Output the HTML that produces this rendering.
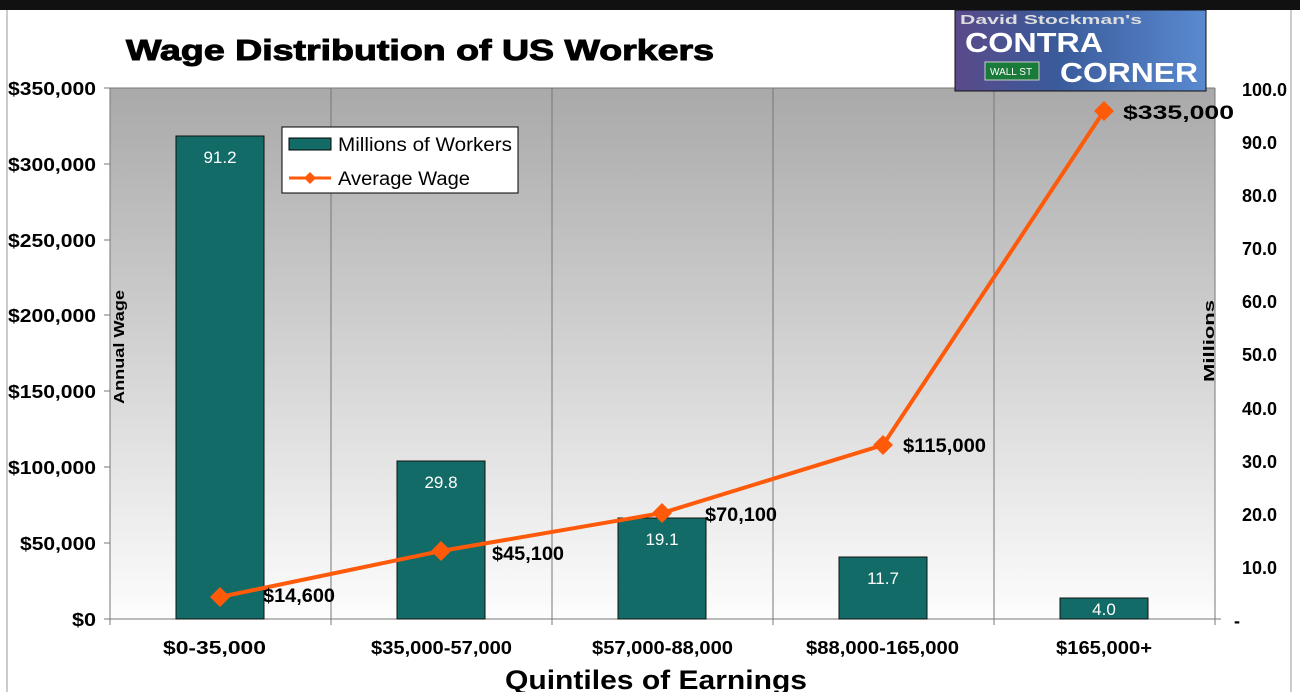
<!DOCTYPE html>
<html><head><style>
body{margin:0;width:1300px;height:692px;overflow:hidden;background:#fff;font-family:"Liberation Sans",Arial,sans-serif}
</style></head><body>
<svg width="1300" height="692" xmlns="http://www.w3.org/2000/svg" font-family="Liberation Sans, Arial, sans-serif">
<defs>
<linearGradient id="g" x1="0" y1="0" x2="0" y2="1">
<stop offset="0" stop-color="#a9a9a9"/><stop offset="1" stop-color="#fdfdfd"/>
</linearGradient>
<linearGradient id="logo" x1="0" y1="0" x2="1" y2="0">
<stop offset="0" stop-color="#5a4a8a"/><stop offset="0.4" stop-color="#3a5a9a"/><stop offset="1" stop-color="#5a8ad0"/>
</linearGradient>
</defs>
<rect x="0" y="0" width="1300" height="10" fill="#111"/>
<line x1="7" y1="10" x2="7" y2="692" stroke="#999"/>
<line x1="1291" y1="10" x2="1291" y2="692" stroke="#999"/>
<rect x="110" y="88" width="1105" height="531" fill="url(#g)"/>
<g stroke="#777" stroke-width="1">
<line x1="110" y1="88" x2="1215" y2="88"/>
<line x1="331" y1="88" x2="331" y2="625"/><line x1="552" y1="88" x2="552" y2="625"/>
<line x1="773" y1="88" x2="773" y2="625"/><line x1="994" y1="88" x2="994" y2="625"/>
<line x1="110" y1="88" x2="110" y2="625"/><line x1="1215" y1="88" x2="1215" y2="625"/>
<line x1="104" y1="619" x2="1221" y2="619"/>
</g>
<g stroke="#777">
<line x1="104" y1="88" x2="110" y2="88"/><line x1="104" y1="164" x2="110" y2="164"/><line x1="104" y1="240" x2="110" y2="240"/><line x1="104" y1="315" x2="110" y2="315"/><line x1="104" y1="391" x2="110" y2="391"/><line x1="104" y1="467" x2="110" y2="467"/><line x1="104" y1="543" x2="110" y2="543"/>
</g>
<g font-size="18" font-weight="bold" fill="#000" lengthAdjust="spacingAndGlyphs">
<text x="8" y="95" textLength="88" lengthAdjust="spacingAndGlyphs">$350,000</text>
<text x="8" y="171" textLength="88" lengthAdjust="spacingAndGlyphs">$300,000</text>
<text x="8" y="247" textLength="88" lengthAdjust="spacingAndGlyphs">$250,000</text>
<text x="8" y="322" textLength="88" lengthAdjust="spacingAndGlyphs">$200,000</text>
<text x="8" y="398" textLength="88" lengthAdjust="spacingAndGlyphs">$150,000</text>
<text x="8" y="474" textLength="88" lengthAdjust="spacingAndGlyphs">$100,000</text>
<text x="20" y="550" textLength="76" lengthAdjust="spacingAndGlyphs">$50,000</text>
<text x="72" y="626" textLength="24" lengthAdjust="spacingAndGlyphs">$0</text>
</g>
<g font-size="18" font-weight="bold" text-anchor="end">
<text x="1287" y="96">100.0</text><text x="1277" y="149">90.0</text><text x="1277" y="202">80.0</text><text x="1277" y="255">70.0</text><text x="1277" y="308">60.0</text><text x="1277" y="361">50.0</text><text x="1277" y="415">40.0</text><text x="1277" y="468">30.0</text><text x="1277" y="521">20.0</text><text x="1277" y="574">10.0</text><text x="1240" y="627">-</text>
</g>
<text transform="translate(124,347) rotate(-90)" font-size="15" font-weight="bold" text-anchor="middle" textLength="114" lengthAdjust="spacingAndGlyphs">Annual Wage</text>
<text transform="translate(1214,341) rotate(-90)" font-size="15" font-weight="bold" text-anchor="middle" textLength="82" lengthAdjust="spacingAndGlyphs">Millions</text>
<g fill="#126b66" stroke="#111" stroke-width="1">
<rect x="176" y="136" width="88" height="483"/>
<rect x="397" y="461" width="88" height="158"/>
<rect x="618" y="518" width="88" height="101"/>
<rect x="839" y="557" width="88" height="62"/>
<rect x="1060" y="598" width="88" height="21"/>
</g>
<g fill="#fff" font-size="17" text-anchor="middle">
<text x="220" y="163">91.2</text><text x="441" y="488">29.8</text><text x="662" y="545">19.1</text><text x="883" y="584">11.7</text><text x="1104" y="615">4.0</text>
</g>
<polyline points="220,597 441,551 662,513 883,445 1104,111" fill="none" stroke="#ff5a0a" stroke-width="4"/>
<g fill="#ff5a0a">
<path d="M220 587l10 10-10 10-10-10z"/><path d="M441 541l10 10-10 10-10-10z"/><path d="M662 503l10 10-10 10-10-10z"/><path d="M883 435l10 10-10 10-10-10z"/><path d="M1104 101l10 10-10 10-10-10z"/>
</g>
<g font-size="19" font-weight="bold">
<text x="263" y="602" textLength="72" lengthAdjust="spacingAndGlyphs">$14,600</text>
<text x="492" y="560" textLength="72" lengthAdjust="spacingAndGlyphs">$45,100</text>
<text x="705" y="521" textLength="72" lengthAdjust="spacingAndGlyphs">$70,100</text>
<text x="903" y="452" textLength="83" lengthAdjust="spacingAndGlyphs">$115,000</text>
<text x="1123" y="119" textLength="111" lengthAdjust="spacingAndGlyphs">$335,000</text>
</g>
<g font-size="18" font-weight="bold">
<text x="163" y="654" textLength="103" lengthAdjust="spacingAndGlyphs">$0-35,000</text>
<text x="371" y="654" textLength="141" lengthAdjust="spacingAndGlyphs">$35,000-57,000</text>
<text x="592" y="654" textLength="141" lengthAdjust="spacingAndGlyphs">$57,000-88,000</text>
<text x="806" y="654" textLength="153" lengthAdjust="spacingAndGlyphs">$88,000-165,000</text>
<text x="1056" y="654" textLength="96" lengthAdjust="spacingAndGlyphs">$165,000+</text>
</g>
<text x="505" y="689" font-size="27" font-weight="bold" textLength="302" lengthAdjust="spacingAndGlyphs">Quintiles of Earnings</text>
<text x="126" y="60" font-size="29" font-weight="bold" textLength="588" lengthAdjust="spacingAndGlyphs" stroke="#000" stroke-width="1">Wage Distribution of US Workers</text>
<rect x="282" y="127" width="236" height="66" fill="#fff" stroke="#000"/>
<rect x="289" y="138" width="42" height="12" fill="#126b66" stroke="#000"/>
<text x="338" y="151" font-size="19" textLength="174" lengthAdjust="spacingAndGlyphs">Millions of Workers</text>
<line x1="289" y1="178" x2="331" y2="178" stroke="#ff5a0a" stroke-width="3"/>
<path d="M310 172l6 6-6 6-6-6z" fill="#ff5a0a"/>
<text x="338" y="185" font-size="19" textLength="132" lengthAdjust="spacingAndGlyphs">Average Wage</text>
<rect x="955" y="10" width="251" height="81" fill="url(#logo)" stroke="#111"/>
<text x="960" y="24" font-size="13" font-weight="bold" fill="#ddd" textLength="182" lengthAdjust="spacingAndGlyphs">David Stockman's</text>
<text x="965" y="52" font-size="28" font-weight="bold" fill="#fff" textLength="138" lengthAdjust="spacingAndGlyphs">CONTRA</text>
<rect x="985" y="62" width="54" height="18" fill="#1a7a3a" stroke="#ccc"/>
<text x="990" y="75" font-size="10" fill="#fff">WALL ST</text>
<text x="1060" y="82" font-size="28" font-weight="bold" fill="#fff" textLength="138" lengthAdjust="spacingAndGlyphs">CORNER</text>
</svg>
</body></html>
